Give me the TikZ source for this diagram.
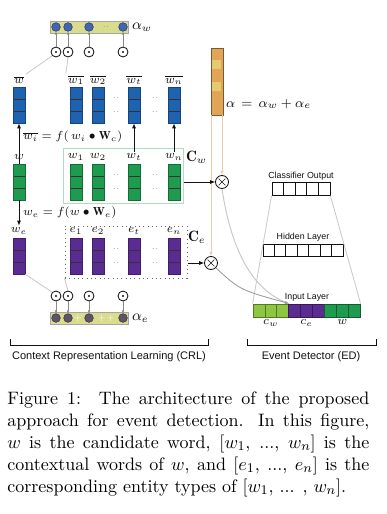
\documentclass[tikz,border=0pt]{standalone}
\usepackage{amsmath,amssymb}
\usepackage{fontspec}
\usepackage{tikz}
\usetikzlibrary{arrows.meta,positioning,calc,fit}
\newfontfamily\arialfont{Liberation Sans}
\definecolor{wblue}{HTML}{1F63B0}
\definecolor{wgreen}{HTML}{1E9B4F}
\definecolor{wpurple}{HTML}{5A2C92}
\definecolor{lgreen}{HTML}{8DC641}
\definecolor{attbar}{HTML}{D8DC8C}
\definecolor{attdotw}{HTML}{4164B4}
\definecolor{attdote}{HTML}{5C5468}
\definecolor{faint}{HTML}{C9C9C9}
\definecolor{faintor}{HTML}{E8CDAA}
\definecolor{alorange}{HTML}{E2A457}
\definecolor{alyellow}{HTML}{E4CB6E}
\definecolor{ink}{HTML}{111111}
\definecolor{muted}{HTML}{8A8A8A}

\begin{document}
\begin{tikzpicture}[x=0.6pt,y=-0.6pt,
  col/.style={fill=#1, draw=#1!70!black, line width=0.4pt, minimum width=7.2pt, minimum height=21.6pt, inner sep=0pt,
    path picture={\draw[black!80,line width=0.5pt]
      ($(path picture bounding box.north west)!0.333!(path picture bounding box.south west)$) -- ($(path picture bounding box.north east)!0.333!(path picture bounding box.south east)$)
      ($(path picture bounding box.north west)!0.667!(path picture bounding box.south west)$) -- ($(path picture bounding box.north east)!0.667!(path picture bounding box.south east)$);}},
  lab/.style={font=\fontsize{7}{8}\selectfont, inner sep=1pt, color=ink},
  sans/.style={font=\arialfont\fontsize{#1}{#1}\selectfont, inner sep=1pt, color=ink},
  prod/.style={circle, draw=ink, line width=0.5pt, minimum size=6pt, inner sep=0pt,
    path picture={\fill[ink] (path picture bounding box.center) circle (0.7pt);}},
  mult/.style={circle, draw=ink, line width=0.5pt, minimum size=7.8pt, inner sep=0pt,
    path picture={\draw[ink,line width=0.4pt] ([shift={(-2pt,-2pt)}]path picture bounding box.center) -- ([shift={(2pt,2pt)}]path picture bounding box.center)
      ([shift={(-2pt,2pt)}]path picture bounding box.center) -- ([shift={(2pt,-2pt)}]path picture bounding box.center);}},
  dot/.style={circle, fill=#1, draw=#1!60!black, line width=0.3pt, minimum size=5.2pt, inner sep=0pt},
  cell/.style={draw=ink, fill=white, line width=0.5pt, minimum width=#1, minimum height=7.6pt, inner sep=0pt},
  arr/.style={-{Latex[length=3pt,width=2.4pt]}, line width=0.5pt, ink},
  small arr/.style={-{Latex[length=1.8pt,width=1.6pt]}, line width=0.35pt, muted}]
  \useasboundingbox (0,0) rectangle (386,514);

  % word columns
  \foreach \name/\cx in {0/19,1/76,2/98,t/134,n/174} {
    \node[col=wblue] (b\name) at (\cx,105) {};
    \node[col=wgreen] (g\name) at (\cx,182) {};
    \node[col=wpurple] (p\name) at (\cx,256) {};
  }
  \node[lab] (lb0) at (19,80) {$\overline{w}$};
  \node[lab] (lg0) at (19,157) {$w$};
  \node[lab] (lp0) at (19,231) {$w_e$};
  \foreach \name/\cx in {1/76,2/98,t/134,n/174} {
    \node[lab] (lb\name) at (\cx,80) {$\overline{w_{\name}}$};
    \node[lab] (lg\name) at (\cx,157) {$w_{\name}$};
    \node[lab] (lp\name) at (\cx,231) {$e_{\name}$};
  }
  \foreach \cx in {116,155}
    \foreach \cy in {98,112,175,189,249,263}
      \node[font=\tiny,color=muted,inner sep=0pt] (d\cx-\cy) at (\cx,\cy) {..};

  % context boxes
  \node[draw=wgreen!35, line width=0.6pt, inner sep=0pt, fit={(63,148) (183,203)}] (cw) {};
  \node[draw=black!60, dotted, line width=0.6pt, inner sep=0pt, fit={(65,226) (187,278)}] (ce) {};
  \node[lab, font=\fontsize{9}{10}\selectfont, anchor=west] (cwl) at (184,157) {$\mathbf{C}_w$};
  \node[lab, font=\fontsize{9}{10}\selectfont, anchor=west] (cel) at (186,237) {$\mathbf{C}_e$};

  % transformations
  \draw[arr] (g0.north) -- (b0.south);
  \draw[arr] (lgt.north) -- (bt.south);
  \draw[arr] (lgn.north) -- (bn.south);
  \node[lab, anchor=west] (fw) at (21,137) {$\overline{w_i}=f(\,w_i\bullet\mathbf{W}_c)$};
  \draw[arr] (g0.south) -- (lp0.north);
  \node[lab, anchor=west] (fe) at (21,213) {$w_e=f(w\bullet\mathbf{W}_e)$};

  % attention over words
  \node[fill=attbar, draw=black!35, line width=0.4pt, inner sep=0pt, fit={(50,21) (128,33)}] (aw) {};
  \node[lab, font=\fontsize{9}{10}\selectfont, anchor=west] (awl) at (130,27) {$\alpha_w$};
  \node[font=\tiny,color=muted,inner sep=0pt] (awd) at (106,27) {..};
  \foreach \i/\cx in {1/56,2/68,3/89,4/123} {
    \node[dot=attdotw] (aw\i) at (\cx,27) {};
    \node[prod] (ow\i) at (\cx,52) {};
    \draw[small arr] (ow\i.north) -- (aw\i.south);
  }
  \draw[faint,line width=0.5pt] (ow1.south west) -- (lb0.north east);
  \draw[faint,line width=0.5pt] (ow2.south) -- (lb1.north west);

  % attention over entity types
  \node[fill=attbar, draw=black!35, line width=0.4pt, inner sep=0pt, fit={(50,312) (128,324)}] (ae) {};
  \node[lab, font=\fontsize{9}{10}\selectfont, anchor=west] (ael) at (130,318) {$\alpha_e$};
  \node[font=\tiny,color=white,inner sep=0pt] (aed1) at (78,318) {+};
  \node[font=\tiny,color=white,inner sep=0pt] (aed2) at (106,318) {++};
  \foreach \i/\cx in {1/56,2/68,3/89,4/123} {
    \node[dot=attdote] (ae\i) at (\cx,318) {};
    \node[prod] (oe\i) at (\cx,296) {};
    \draw[small arr] (oe\i.south) -- (ae\i.north);
  }
  \draw[faint,line width=0.5pt] (p0.south east) .. controls (40,284) .. (oe1.north west);
  \draw[faint,line width=0.5pt] (ce.south west) -- (oe2.north);

  % combined attention
  \node[fill=alorange, draw=black!45!alorange, line width=0.5pt, minimum width=7.2pt, minimum height=40.2pt, inner sep=0pt] (alpha) at (217,81.5) {};
  \foreach \i/\c in {0/alorange,1/alyellow,2/alorange,3/alyellow,4/alorange,5/alorange}
    \fill[\c] ($(alpha.north west)+(1.5,\i*11.1+1.2)$) rectangle ++(9,9);
  \node[lab, font=\fontsize{8}{9}\selectfont, anchor=west] (alab) at (224,104) {$\alpha\,=\,\alpha_w+\alpha_e$};

  \node[mult] (mw) at (222,182) {};
  \node[mult] (me) at (211,263) {};
  \draw[-{Latex[length=2.5pt,width=2pt]}, faintor, line width=0.6pt] (mw |- alpha.south) -- (mw.north);
  \draw[-{Latex[length=2.5pt,width=2pt]}, faintor, line width=0.6pt] (me |- alpha.south) -- (me.north);
  \draw[arr, line width=0.4pt] (cw.east |- mw) -- (mw.west);
  \draw[arr, line width=0.4pt] (ce.east |- me) -- (me.west);

  % event detector
  \foreach \i in {0,...,4}
    \node[cell=7pt] (co\i) at (277.8+\i*11.6,189) {};
  \foreach \i in {0,...,6}
    \node[cell=6.9pt] (hl\i) at (268.7+\i*11.43,250.5) {};
  \foreach \i/\c in {0/lgreen,1/lgreen,2/lgreen,3/wpurple,4/wpurple,5/wpurple,6/wgreen,7/wgreen,8/wgreen}
    \node[cell=7.15pt, fill=\c, draw=\c!60!black, minimum height=7.8pt] (in\i) at (259+\i*11.9,310.5) {};
  \node[sans=5.3] (colab) at (301,176) {Classifier Output};
  \node[sans=5.3] (hllab) at (303,237) {Hidden Layer};
  \node[sans=5.3] (inlab) at (307,297) {Input Layer};
  \node[lab, below=0pt of in1] (cwin) {$c_w$};
  \node[lab, below=0pt of in4] (cein) {$c_e$};
  \node[lab, below=0pt of in7] (win) {$w$};
  \draw[faint, line width=0.5pt] (co0.south west) -- (in0.north west);
  \draw[faint, line width=0.5pt] (co4.south east) -- (in8.north east);
  \draw[faint, line width=0.6pt] (mw.south) .. controls (232,255) and (255,292) .. (in2.north east);
  \draw[-{Latex[length=2.5pt,width=2pt]}, black!40, line width=0.5pt] (me.south east) .. controls (240,290) .. (in2.north east);

  % brackets
  \draw[ink, line width=0.6pt] (10,339) -- (10,345) -- (208,345) -- (208,339);
  \draw[ink, line width=0.6pt] (247,339) -- (247,345) -- (376,345) -- (376,339);
  \node[sans=6.6] (crl) at (109,357) {Context Representation Learning (CRL)};
  \node[sans=6.6] (ed) at (311,357) {Event Detector (ED)};

  \node[anchor=north west, text width=217.2pt, align=justify, inner sep=0pt, font=\fontsize{10.8}{13.2}\selectfont] (cap) at (7,391)
    {\hyphenpenalty=10000\exhyphenpenalty=10000 Figure 1:\ \ The architecture of the proposed approach for event detection. In this figure, $w$ is the candidate word, [$w_1$, ..., $w_n$] is the contextual words of $w$, and [$e_1$, ..., $e_n$] is the corresponding entity types of [$w_1$, ... , $w_n$].};
\end{tikzpicture}
\end{document}
